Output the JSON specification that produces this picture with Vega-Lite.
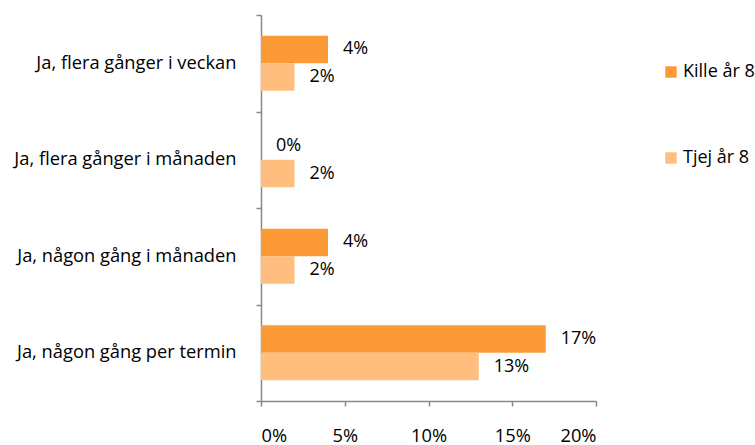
{
  "$schema": "https://vega.github.io/schema/vega-lite/v6.json",
  "width": 335,
  "height": 386,
  "autosize": "none",
  "padding": {"left": 261, "top": 15, "right": 159, "bottom": 44},
  "background": "white",
  "config": {
    "view": {"stroke": null},
    "font": "Open Sans",
    "axis": {"domainColor": "#888888", "tickColor": "#888888", "domainWidth": 1.5, "tickWidth": 1.5, "labelColor": "#000000", "labelFont": "Open Sans", "labelFontSize": 18.3, "grid": false, "title": null}
  },
  "data": {
    "values": [
      {"kategori": "Ja, flera gånger i veckan", "grupp": "Kille år 8", "andel": 0.04},
      {"kategori": "Ja, flera gånger i veckan", "grupp": "Tjej år 8", "andel": 0.02},
      {"kategori": "Ja, flera gånger i månaden", "grupp": "Kille år 8", "andel": 0.0},
      {"kategori": "Ja, flera gånger i månaden", "grupp": "Tjej år 8", "andel": 0.02},
      {"kategori": "Ja, någon gång i månaden", "grupp": "Kille år 8", "andel": 0.04},
      {"kategori": "Ja, någon gång i månaden", "grupp": "Tjej år 8", "andel": 0.02},
      {"kategori": "Ja, någon gång per termin", "grupp": "Kille år 8", "andel": 0.17},
      {"kategori": "Ja, någon gång per termin", "grupp": "Tjej år 8", "andel": 0.13}
    ]
  },
  "encoding": {
    "y": {
      "field": "kategori",
      "type": "nominal",
      "sort": null,
      "scale": {"paddingInner": 0, "paddingOuter": 0},
      "axis": {"tickBand": "extent", "tickSize": 5, "labelPadding": 20, "labelLimit": 300}
    },
    "yOffset": {"field": "grupp", "type": "nominal", "sort": ["Kille år 8", "Tjej år 8"], "scale": {"paddingInner": 0, "paddingOuter": 0.75}},
    "x": {
      "field": "andel",
      "type": "quantitative",
      "scale": {"domain": [0, 0.2], "nice": false},
      "axis": {"format": ".0%", "values": [0, 0.05, 0.1, 0.15, 0.2], "tickSize": 5, "labelPadding": 21}
    }
  },
  "layer": [
    {
      "mark": {"type": "bar"},
      "encoding": {
        "color": {
          "field": "grupp",
          "type": "nominal",
          "sort": ["Kille år 8", "Tjej år 8"],
          "scale": {"domain": ["Kille år 8", "Tjej år 8"], "range": ["#FD9A38", "#FFBE7D"]},
          "legend": {
            "title": null,
            "orient": "none",
            "legendX": 401,
            "legendY": 48,
            "symbolType": "square",
            "symbolSize": 130,
            "symbolStrokeWidth": 0,
            "rowPadding": 68,
            "labelFont": "Open Sans",
            "labelFontSize": 18,
            "labelColor": "#000000",
            "labelOffset": 3,
            "labelLimit": 200
          }
        }
      }
    },
    {
      "mark": {"type": "text", "align": "left", "baseline": "middle", "dx": 15, "fontSize": 18, "font": "Open Sans", "color": "#000000"},
      "encoding": {
        "text": {"field": "andel", "type": "quantitative", "format": ".0%"}
      }
    }
  ]
}
